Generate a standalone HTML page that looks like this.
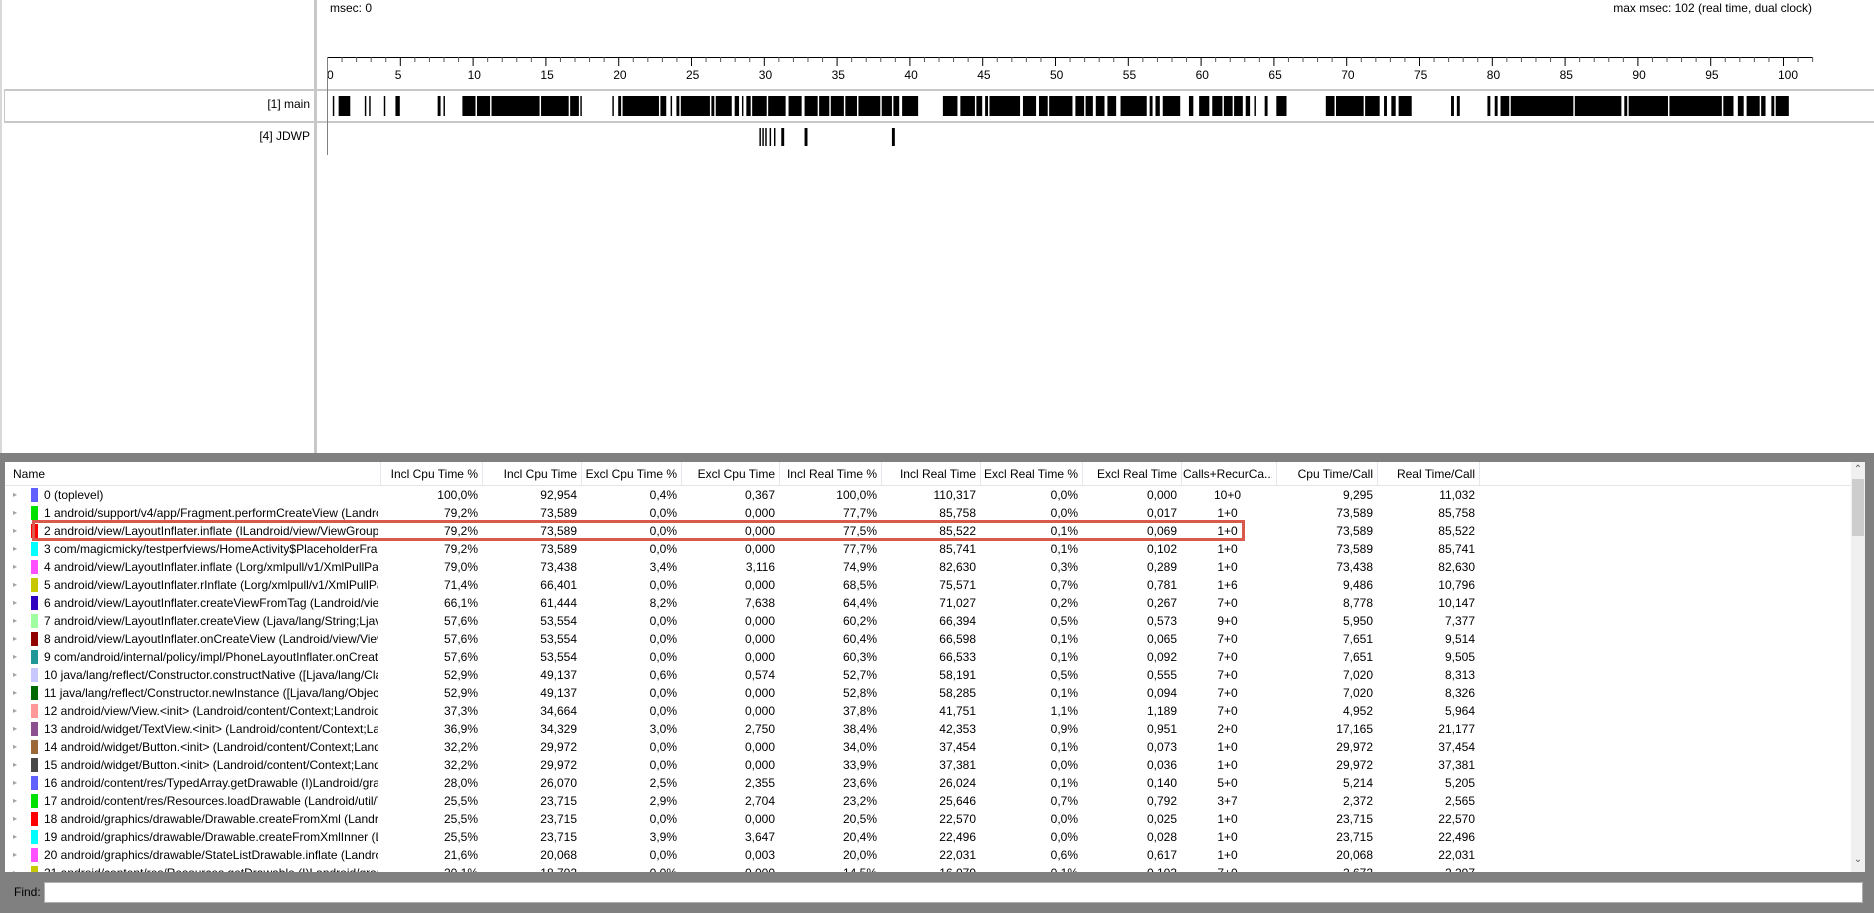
<!DOCTYPE html>
<html><head><meta charset="utf-8">
<style>
html,body{margin:0;padding:0;width:1874px;height:913px;overflow:hidden;background:#fff;font-family:"Liberation Sans",sans-serif;font-size:12px;color:#000}
.abs{position:absolute}
.cell{position:absolute;white-space:nowrap;overflow:hidden;line-height:18px;height:18px}
</style></head>
<body>
<div class="abs" style="left:0;top:0;width:2px;height:454px;background:#d8d8d8"></div>
<div class="abs" style="left:314px;top:0;width:3px;height:454px;background:#c8c8c8"></div>
<div class="abs" style="left:330px;top:1px">msec: 0</div>
<div class="abs" style="left:1500px;width:312px;top:1px;text-align:right">max msec: 102 (real time, dual clock)</div>
<div class="abs" style="left:4px;top:89px;width:1870px;height:2px;background:#c8c8c8"></div>
<div class="abs" style="left:4px;top:121px;width:1870px;height:2px;background:#c8c8c8"></div>
<div class="abs" style="left:4px;top:89px;width:1px;height:34px;background:#c8c8c8"></div>
<div class="abs" style="left:100px;width:210px;top:97px;text-align:right">[1] main</div>
<div class="abs" style="left:100px;width:210px;top:129px;text-align:right">[4] JDWP</div>
<svg class="abs" style="left:0;top:0" width="1874" height="454">
<g id="axis"></g><g id="bars"></g>
</svg>

<div class="abs" style="left:0;top:453px;width:1874px;height:460px;background:#808080"></div>
<div class="abs" style="left:5px;top:462px;width:1860px;height:410px;background:#fff;overflow:hidden" id="table">
  <div class="abs" style="left:0;top:0;width:1846px;height:23px;background:#fff;border-bottom:1px solid #e5e5e5" id="hdr"></div>
  <div class="abs" style="left:1846px;top:0;width:14px;height:410px;background:#f0f0f0">
    <div class="abs" style="left:0;top:2px;width:14px;text-align:center;font-size:10px;color:#606060">&#8963;</div>
    <div class="abs" style="left:1px;top:17px;width:12px;height:57px;background:#cdcdcd"></div>
    <div class="abs" style="left:0;top:392px;width:14px;text-align:center;font-size:10px;color:#606060">&#8964;</div>
  </div>
</div>
<div class="abs" style="left:32px;top:520px;width:1207px;height:15px;border:3px solid #d9594c"></div>
<div class="abs" style="left:14px;top:885px">Find:</div>
<div class="abs" style="left:44px;top:882px;width:1817px;height:19px;background:#fff;border:1px solid #b0b0b0"></div>

<script>
const tickMax = 102;
const tickLabels = [0,5,10,15,20,25,30,35,40,45,50,55,60,65,70,75,80,85,90,95,100];
const mainSegments = [[0.4,0.5],[0.8,1.6],[2.6,2.7],[2.9,3.0],[3.9,4.0],[4.7,5.0],[7.6,7.8],[8.0,8.1],[9.3,10.2],[10.3,11.2],[11.3,14.6],[14.7,16.6],[16.7,17.3],[17.4,17.5],[19.6,19.7],[20.0,20.2],[20.3,22.8],[22.9,23.3],[23.6,23.7],[24.0,24.2],[24.3,26.3],[26.4,26.6],[26.7,27.8],[28.0,28.3],[28.5,28.6],[28.8,29.1],[29.2,30.2],[30.3,31.5],[31.7,32.6],[32.8,33.7],[33.8,34.5],[34.6,35.5],[35.6,36.4],[36.5,38.0],[38.1,38.8],[38.9,39.3],[39.5,40.6],[42.3,43.3],[43.5,44.5],[44.6,45.0],[45.2,45.4],[45.5,47.6],[47.8,48.7],[48.9,49.5],[49.6,51.2],[51.4,52.0],[52.1,52.6],[52.8,53.4],[53.6,54.2],[54.5,56.3],[56.5,56.7],[56.9,57.2],[57.4,58.6],[59.2,59.5],[59.9,60.6],[60.8,61.5],[61.6,62.2],[62.3,62.9],[63.1,63.4],[63.7,63.8],[64.4,64.6],[65.2,65.9],[68.6,69.2],[69.3,71.2],[71.3,72.3],[72.6,72.8],[73.1,73.4],[73.6,74.5],[77.2,77.4],[77.6,77.8],[79.7,79.9],[80.2,80.4],[80.6,81.2],[81.3,85.6],[85.7,88.9],[89.1,89.3],[89.4,92.1],[92.2,95.8],[95.9,96.6],[96.9,97.3],[97.5,98.4],[98.5,98.8],[99.2,99.4],[99.5,100.4]];
const jdwpSegments = [[29.7,29.8],[29.9,30.0],[30.1,30.2],[30.4,30.5],[30.7,30.8],[31.2,31.4],[32.8,33.0],[38.8,39.0]];

const X0=327, X1=1783;
function xs(ms){return X0+ms*(X1-X0)/100;}
const NS='http://www.w3.org/2000/svg';
function mk(tag,attrs,parent){const e=document.createElementNS(NS,tag);for(const k in attrs)e.setAttribute(k,attrs[k]);parent.appendChild(e);return e;}
const axis=document.getElementById('axis'), bars=document.getElementById('bars');
const al=mk('line',{x1:xs(0),x2:xs(tickMax),y1:57.5,y2:57.5,stroke:'#000'},axis);


for(let i=0;i<=tickMax;i++){
  const major=i%5===0;
  const t=mk('line',{x1:xs(i)+.5,x2:xs(i)+.5,y1:57,y2:major?66:62,stroke:major?'#000':'#555'},axis);
  
  
}
tickLabels.forEach(v=>{
  const t=mk('text',{x:xs(v)+(v===0?0:-5),y:79,'font-size':'12','font-family':'Liberation Sans, sans-serif'},axis);
  t.textContent=v;
  
  
});
const vl=mk('line',{x1:327.5,x2:327.5,y1:57,y2:155,stroke:'#808080'},axis);


mainSegments.forEach(s=>{
  const r=mk('rect',{x:xs(s[0]),y:96,width:Math.max(1,xs(s[1])-xs(s[0])),height:20,fill:'#000'},bars);
  
  
});
jdwpSegments.forEach(s=>{
  const r=mk('rect',{x:xs(s[0]),y:128,width:Math.max(1,xs(s[1])-xs(s[0])),height:18,fill:'#000'},bars);
  
  
});

const headers=["Name","Incl Cpu Time %","Incl Cpu Time","Excl Cpu Time %","Excl Cpu Time","Incl Real Time %","Incl Real Time","Excl Real Time %","Excl Real Time","Calls+RecurCa...","Cpu Time/Call","Real Time/Call"];
const colRight=[375,477,576,676,774,876,975,1077,1176,1271,1372,1474];
const names=["0 (toplevel)","1 android/support/v4/app/Fragment.performCreateView (Landroid/view/LayoutInflater;","2 android/view/LayoutInflater.inflate (ILandroid/view/ViewGroup;Z)","3 com/magicmicky/testperfviews/HomeActivity$PlaceholderFragment","4 android/view/LayoutInflater.inflate (Lorg/xmlpull/v1/XmlPullParser;","5 android/view/LayoutInflater.rInflate (Lorg/xmlpull/v1/XmlPullParser;","6 android/view/LayoutInflater.createViewFromTag (Landroid/view/View;","7 android/view/LayoutInflater.createView (Ljava/lang/String;Ljava/lang","8 android/view/LayoutInflater.onCreateView (Landroid/view/View;","9 com/android/internal/policy/impl/PhoneLayoutInflater.onCreateView","10 java/lang/reflect/Constructor.constructNative ([Ljava/lang/Class;","11 java/lang/reflect/Constructor.newInstance ([Ljava/lang/Object;)","12 android/view/View.<init> (Landroid/content/Context;Landroid/util","13 android/widget/TextView.<init> (Landroid/content/Context;Landroid","14 android/widget/Button.<init> (Landroid/content/Context;Landroid","15 android/widget/Button.<init> (Landroid/content/Context;Landroid","16 android/content/res/TypedArray.getDrawable (I)Landroid/graphics","17 android/content/res/Resources.loadDrawable (Landroid/util/TypedValue","18 android/graphics/drawable/Drawable.createFromXml (Landroid/content","19 android/graphics/drawable/Drawable.createFromXmlInner (Landroid/content","20 android/graphics/drawable/StateListDrawable.inflate (Landroid/content","21 android/content/res/Resources.getDrawable (I)Landroid/graphics/drawable"];
const colors=["#6060ff","#00e000","#ff0000","#00ffff","#ff50ff","#c8c800","#3000c0","#a0ffa0","#900000","#209898","#c8c8ff","#006800","#ff9898","#8c5090","#9c6838","#484848","#6060ff","#00e000","#ff0000","#00ffff","#ff50ff","#c8c800"];
const inclCpuPct=["100,0%","79,2%","79,2%","79,2%","79,0%","71,4%","66,1%","57,6%","57,6%","57,6%","52,9%","52,9%","37,3%","36,9%","32,2%","32,2%","28,0%","25,5%","25,5%","25,5%","21,6%","20,1%"];
const inclCpu=["92,954","73,589","73,589","73,589","73,438","66,401","61,444","53,554","53,554","53,554","49,137","49,137","34,664","34,329","29,972","29,972","26,070","23,715","23,715","23,715","20,068","18,702"];
const exclCpuPct=["0,4%","0,0%","0,0%","0,0%","3,4%","0,0%","8,2%","0,0%","0,0%","0,0%","0,6%","0,0%","0,0%","3,0%","0,0%","0,0%","2,5%","2,9%","0,0%","3,9%","0,0%","0,0%"];
const exclCpu=["0,367","0,000","0,000","0,000","3,116","0,000","7,638","0,000","0,000","0,000","0,574","0,000","0,000","2,750","0,000","0,000","2,355","2,704","0,000","3,647","0,003","0,000"];
const inclRealPct=["100,0%","77,7%","77,5%","77,7%","74,9%","68,5%","64,4%","60,2%","60,4%","60,3%","52,7%","52,8%","37,8%","38,4%","34,0%","33,9%","23,6%","23,2%","20,5%","20,4%","20,0%","14,5%"];
const inclReal=["110,317","85,758","85,522","85,741","82,630","75,571","71,027","66,394","66,598","66,533","58,191","58,285","41,751","42,353","37,454","37,381","26,024","25,646","22,570","22,496","22,031","16,079"];
const exclRealPct=["0,0%","0,0%","0,1%","0,1%","0,3%","0,7%","0,2%","0,5%","0,1%","0,1%","0,5%","0,1%","1,1%","0,9%","0,1%","0,0%","0,1%","0,7%","0,0%","0,0%","0,6%","0,1%"];
const exclReal=["0,000","0,017","0,069","0,102","0,289","0,781","0,267","0,573","0,065","0,092","0,555","0,094","1,189","0,951","0,073","0,036","0,140","0,792","0,025","0,028","0,617","0,103"];
const calls=["10+0","1+0","1+0","1+0","1+0","1+6","7+0","9+0","7+0","7+0","7+0","7+0","7+0","2+0","1+0","1+0","5+0","3+7","1+0","1+0","1+0","7+0"];
const cpuPerCall=["9,295","73,589","73,589","73,589","73,438","9,486","8,778","5,950","7,651","7,651","7,020","7,020","4,952","17,165","29,972","29,972","5,214","2,372","23,715","23,715","20,068","2,672"];
const realPerCall=["11,032","85,758","85,522","85,741","82,630","10,796","10,147","7,377","9,514","9,505","8,313","8,326","5,964","21,177","37,454","37,381","5,205","2,565","22,570","22,496","22,031","2,297"];

const table=document.getElementById('table'), hdr=document.getElementById('hdr');
function cell(parent,text,left,width,top,align){const d=document.createElement('div');d.className='cell';d.style.left=left+'px';d.style.width=width+'px';d.style.top=top+'px';d.style.textAlign=align;d.textContent=text;parent.appendChild(d);return d;}
headers.forEach((h,i)=>{
  const left=i===0?0:colRight[i-1]+2, right=colRight[i];
  const c=cell(hdr,h,i===0?8:left,i===0?300:right-left-4,3,i===0?'left':(i===9?'center':'right'));
  
  
  const sep=document.createElement('div');sep.className='abs';sep.style.cssText='left:'+(right)+'px;top:0;width:1px;height:23px;background:#e3e8ef';
  
  
  hdr.appendChild(sep);
});
const cols=[inclCpuPct,inclCpu,exclCpuPct,exclCpu,inclRealPct,inclReal,exclRealPct,exclReal,calls,cpuPerCall,realPerCall];
names.forEach((n,r)=>{
  const top=24+r*18;
  const row=document.createElement('div');row.className='abs';row.style.cssText='left:0;top:'+top+'px;width:1846px;height:18px';
  
  
  table.appendChild(row);
  const ex=cell(row,'\u25B8',8,10,0,'left');ex.style.fontSize='8px';ex.style.color='#a0a0a0';
  
  
  const sw=document.createElement('div');sw.className='abs';sw.style.cssText='left:26px;top:2px;width:7px;height:14px;background:'+colors[r];
  
  
  row.appendChild(sw);
  const nm=cell(row,n,39,334,0,'left');
  
  
  cols.forEach((arr,i)=>{
    const left=colRight[i]+2,right=colRight[i+1];
    const c=cell(row,arr[r],left,right-left-4,0,i===8?'center':'right');
    
    
  });
});
</script>
</body></html>
